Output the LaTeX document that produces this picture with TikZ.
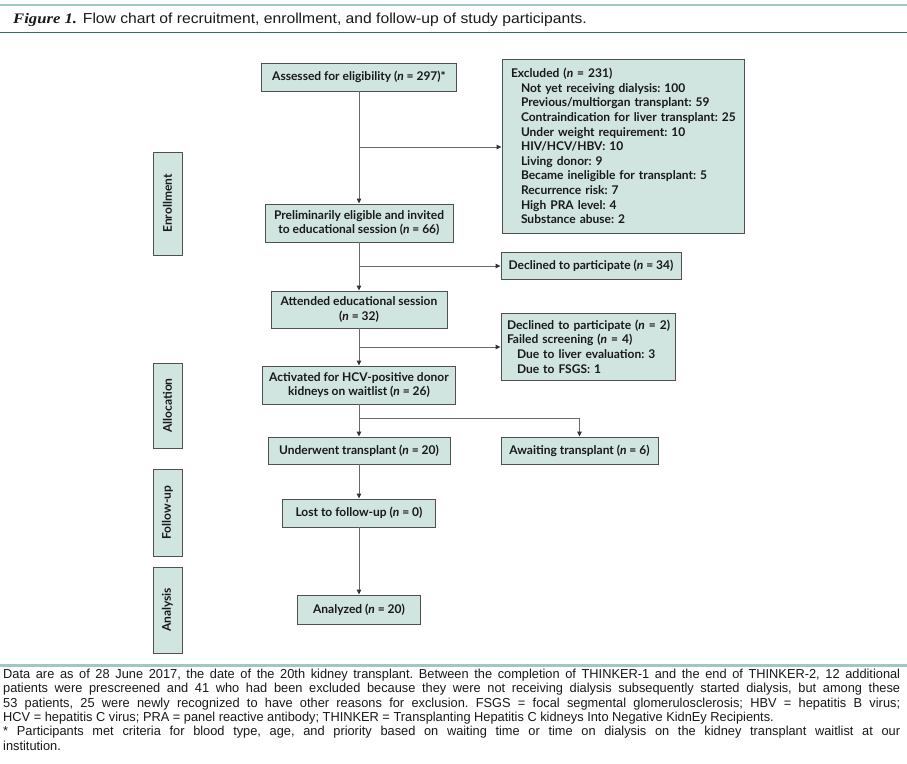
\documentclass[tikz,border=0pt]{standalone}
\usepackage{fontspec}
\setmainfont{Lato}
\newfontfamily\footfont[FakeStretch=0.985]{Liberation Sans}
\newfontfamily\titlefont[FakeStretch=1.08]{Liberation Sans}
\newfontfamily\figfont[FakeStretch=1.15]{Liberation Serif}
\usetikzlibrary{arrows.meta,calc}
\definecolor{boxfill}{RGB}{208,228,224}
\definecolor{boxline}{RGB}{80,80,80}
\definecolor{arrline}{RGB}{105,105,105}
\definecolor{tealL}{RGB}{158,199,197}
\definecolor{tealD}{RGB}{52,110,104}
\definecolor{txt}{RGB}{25,25,25}
\newcommand\indline[1]{\mbox{\hspace*{10pt}#1}}
\newcommand\plainline[1]{\mbox{#1}}
\tikzset{
  box/.style={draw=boxline, fill=boxfill, line width=0.9pt, inner sep=0pt,
    font=\fontsize{12}{14.6}\selectfont\bfseries\frenchspacing, text=txt, align=center},
  side/.style={box, rotate=90, minimum height=29pt},
  arr/.style={draw=arrline, line width=1pt, -{Triangle[length=5pt,width=4.5pt,color=black!80]}},
}
\begin{document}
\begin{tikzpicture}[x=1pt,y=-1pt]
\useasboundingbox (0,0) rectangle (907,763);
\fill[white] (0,0) rectangle (907,763);
% header
\draw[tealL, line width=2pt] (0,4.5) -- (907,4.5);
\draw[tealD, line width=1.6pt] (0,32.5) -- (907,32.5);
\node[anchor=base west, inner sep=0pt, text=txt, font=\titlefont\fontsize{14.5}{16}\selectfont] (title) at (13,23)
  {{\figfont\fontsize{14.5}{16}\selectfont\bfseries\itshape Figure 1.} Flow chart of recruitment, enrollment, and follow-up of study participants.};
% side labels
\node[side, minimum width=103pt] (enr) at (167.5,203.5) {Enrollment};
\node[side, minimum width=85pt] (alloc) at (167.5,405.5) {Allocation};
\node[side, minimum width=87pt] (fol) at (167.5,512.5) {Follow-up};
\node[side, minimum width=86pt] (ana) at (167.5,610) {Analysis};
% main boxes
\node[box, minimum width=195pt, minimum height=28pt] (assess) at (359,77) {Assessed for eligibility (\textit{n} = 297)*};
\node[box, align=left, text width=224pt, inner xsep=9pt, minimum height=174pt] (excl) at (623,146)
  {\plainline{Excluded (\textit{n} = 231)}\\
   \indline{Not yet receiving dialysis: 100}\\
   \indline{Previous/multiorgan transplant: 59}\\
   \indline{Contraindication for liver transplant: 25}\\
   \indline{Under weight requirement: 10}\\
   \indline{HIV/HCV/HBV: 10}\\
   \indline{Living donor: 9}\\
   \indline{Became ineligible for transplant: 5}\\
   \indline{Recurrence risk: 7}\\
   \indline{High PRA level: 4}\\
   \indline{Substance abuse: 2}};
\node[box, minimum width=188pt, minimum height=38pt] (prelim) at (359,223) {Preliminarily eligible and invited\\to educational session (\textit{n} = 66)};
\node[box, minimum width=180pt, minimum height=27pt] (decl1) at (591,265.5) {Declined to participate (\textit{n} = 34)};
\node[box, minimum width=176pt, minimum height=37pt] (attend) at (359,309.5) {Attended educational session\\(\textit{n} = 32)};
\node[box, align=left, text width=162pt, inner xsep=6pt, minimum height=67pt] (decl2) at (588,346.5)
  {\plainline{Declined to participate (\textit{n} = 2)}\\
   \plainline{Failed screening (\textit{n} = 4)}\\
   \indline{Due to liver evaluation: 3}\\
   \indline{Due to FSGS: 1}};
\node[box, minimum width=193pt, minimum height=38pt] (activ) at (359,385) {Activated for HCV-positive donor\\kidneys on waitlist (\textit{n} = 26)};
\node[box, minimum width=182pt, minimum height=27pt] (under) at (359,450.5) {Underwent transplant (\textit{n} = 20)};
\node[box, minimum width=157pt, minimum height=27pt] (await) at (579.5,450.5) {Awaiting transplant (\textit{n} = 6)};
\node[box, minimum width=153pt, minimum height=28pt] (lost) at (359,513) {Lost to follow-up (\textit{n} = 0)};
\node[box, minimum width=123pt, minimum height=29pt] (analyzed) at (359,609.5) {Analyzed (\textit{n} = 20)};
% connectors
\coordinate (b1) at (359,147);
\coordinate (b2) at (359,266);
\coordinate (b3) at (359,347);
\coordinate (b4) at (359,418);
\draw[arr] (assess.south) -- (prelim.north);
\draw[arr] (b1) -- (b1 -| excl.west);
\draw[arr] (prelim.south) -- (attend.north);
\draw[arr] (b2) -- (b2 -| decl1.west);
\draw[arr] (attend.south) -- (activ.north);
\draw[arr] (b3) -- (b3 -| decl2.west);
\draw[arr] (activ.south) -- (under.north);
\draw[arr] (b4) -| (await.north);
\draw[arr] (under.south) -- (lost.north);
\draw[arr] (lost.south) -- (analyzed.north);
% footer
\draw[tealL, line width=3pt] (0,665) -- (907,665);
\node[anchor=north west, inner sep=0pt, text=txt] (foot) at (3,669)
  {\parbox{897pt}{\footfont\fontsize{13}{14.3}\selectfont\frenchspacing
  Data are as of 28 June 2017, the date of the 20th kidney transplant. Between the completion of THINKER-1 and the end of THINKER-2, 12 additional\linebreak
  patients were prescreened and 41 who had been excluded because they were not receiving dialysis subsequently started dialysis, but among these\linebreak
  53 patients, 25 were newly recognized to have other reasons for exclusion. FSGS = focal segmental glomerulosclerosis; HBV = hepatitis B virus;\linebreak
  HCV = hepatitis C virus; PRA = panel reactive antibody; THINKER = Transplanting Hepatitis C kidneys Into Negative KidnEy Recipients.\par
  * Participants met criteria for blood type, age, and priority based on waiting time or time on dialysis on the kidney transplant waitlist at our\linebreak
  institution.}};
\end{tikzpicture}
\end{document}
